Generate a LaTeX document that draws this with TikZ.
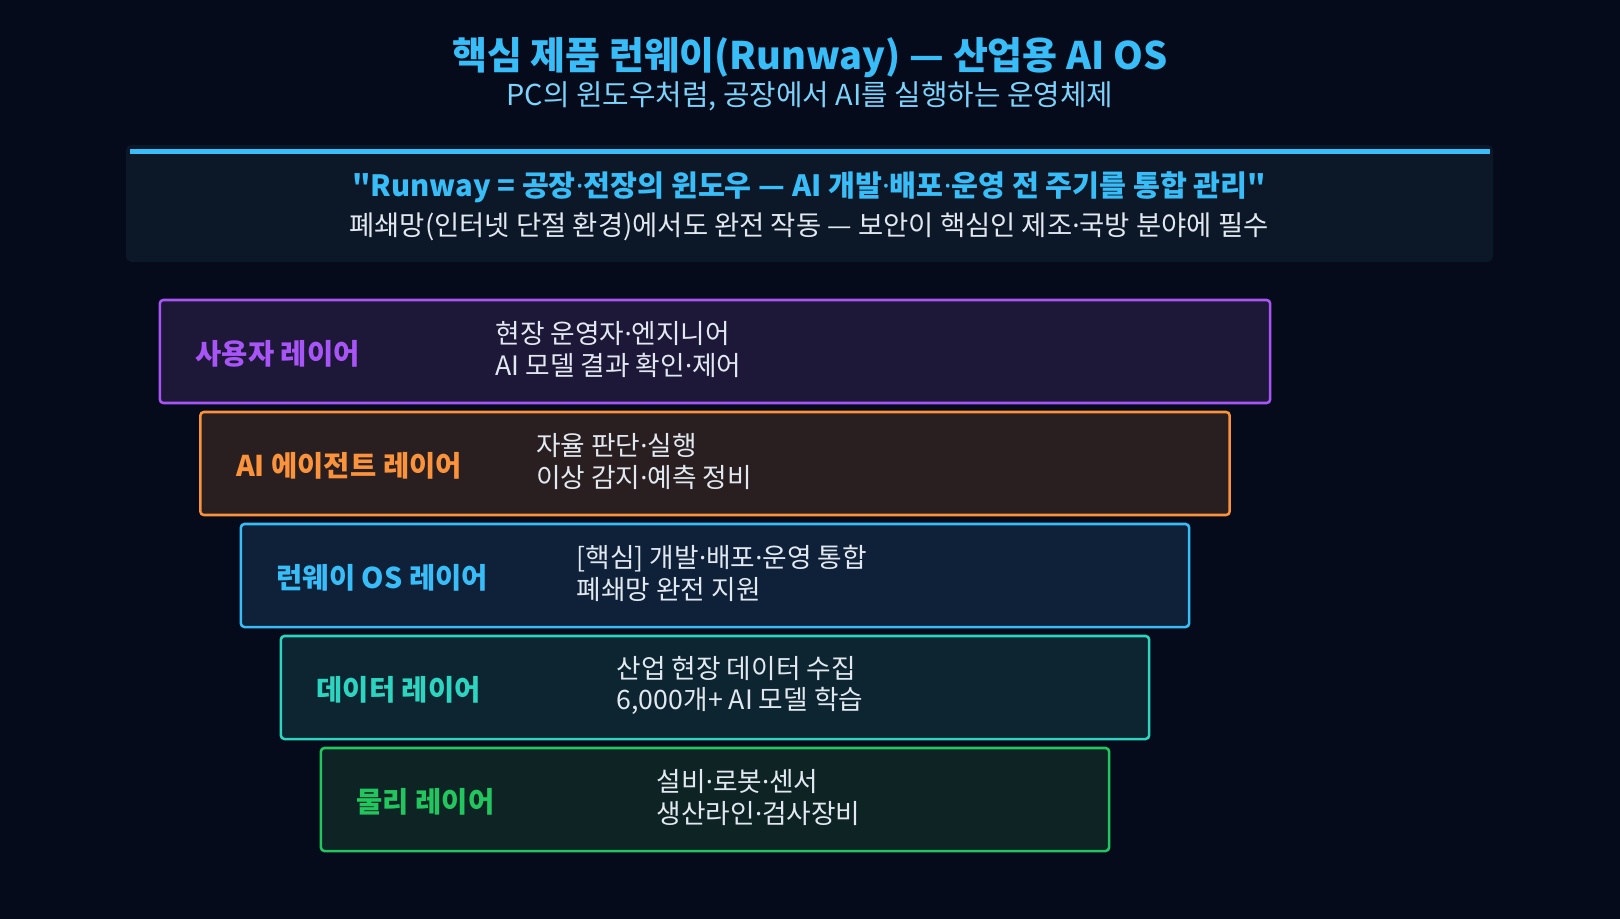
\documentclass[tikz,border=0pt]{standalone}
\usepackage{fontspec}
\setmainfont{Noto Sans CJK KR}
\newfontfamily\dotfont{Noto Sans}
\newcommand{\mdot}{{\dotfont ·}}
\usetikzlibrary{positioning}

\definecolor{bgnavy}{HTML}{050B1A}
\definecolor{quotebg}{HTML}{0C1828}
\definecolor{runblue}{HTML}{38BDF8}
\definecolor{subblue}{HTML}{7DD3FC}
\definecolor{paletext}{HTML}{E2E8F0}
\definecolor{userpurple}{HTML}{A855F7}
\definecolor{userfill}{HTML}{1E1838}
\definecolor{agentorange}{HTML}{FB923C}
\definecolor{agentfill}{HTML}{291F20}
\definecolor{osfill}{HTML}{0E2139}
\definecolor{datateal}{HTML}{2DD4BF}
\definecolor{datafill}{HTML}{0C2530}
\definecolor{physgreen}{HTML}{22C55E}
\definecolor{physfill}{HTML}{0E2424}

\tikzset{layerbox/.style={draw, line width=1.8pt, rounded corners=2.5pt,
    minimum height=2.575cm, inner sep=0pt},
  layername/.style={anchor=west, yshift=-0.07cm, font=\bfseries\fontsize{20.3}{24}\selectfont},
  layerdesc/.style={anchor=west, align=left, text=paletext, yshift=0.05cm,
    font=\fontsize{19}{22.5}\selectfont}}

\begin{document}
\begin{tikzpicture}[x=0.025cm, y=-0.025cm]

  % background
  \fill[bgnavy] (0,0) rectangle (1620,919);
  \useasboundingbox (0,0) rectangle (1620,919);

  % title
  \node[text=runblue, font=\bfseries\fontsize{27}{32}\selectfont] (title) at (810,58)
    {핵심 제품 런웨이(Runway) — 산업용 AI OS};
  \node[text=subblue, font=\fontsize{20.5}{24}\selectfont] (subtitle) at (810,96)
    {PC의 윈도우처럼, 공장에서 AI를 실행하는 운영체제};

  % quote box
  \node[fill=quotebg, rounded corners=4pt, minimum width=34.175cm,
    minimum height=2.925cm, inner sep=0pt] (quote) at (809.5,203.5) {};
  \fill[runblue] (130,149) rectangle (1490,154);
  \node[text=runblue, font=\bfseries\fontsize{20.8}{24}\selectfont] (quoteA) at (809,187)
    {\textquotedbl Runway = 공장\mdot 전장의 윈도우 — AI 개발\mdot 배포\mdot 운영 전 주기를 통합 관리\textquotedbl};
  \node[text=paletext, font=\fontsize{19.5}{24}\selectfont] (quoteB) at (809,227)
    {폐쇄망(인터넷 단절 환경)에서도 완전 작동 — 보안이 핵심인 제조\mdot 국방 분야에 필수};

  % layers
  \node[layerbox, draw=userpurple, fill=userfill, minimum width=27.75cm] (user) at (715,351.5) {};
  \node[layerbox, draw=agentorange, fill=agentfill, minimum width=25.725cm] (agent) at (715,463.5) {};
  \node[layerbox, draw=runblue, fill=osfill, minimum width=23.7cm] (os) at (715,575.5) {};
  \node[layerbox, draw=datateal, fill=datafill, minimum width=21.7cm] (data) at (715,687.5) {};
  \node[layerbox, draw=physgreen, fill=physfill, minimum width=19.7cm] (phys) at (715,799.5) {};

  % layer names
  \node[layername, text=userpurple, right=0.8cm of user.west] (userName) {사용자 레이어};
  \node[layername, text=agentorange, right=0.8cm of agent.west] (agentName) {AI 에이전트 레이어};
  \node[layername, text=runblue, right=0.8cm of os.west] (osName) {런웨이 OS 레이어};
  \node[layername, text=datateal, right=0.8cm of data.west] (dataName) {데이터 레이어};
  \node[layername, text=physgreen, right=0.8cm of phys.west] (physName) {물리 레이어};

  % descriptions
  \node[layerdesc, right=8.3cm of user.west] (userDesc)
    {현장 운영자\mdot 엔지니어\\AI 모델 결과 확인\mdot 제어};
  \node[layerdesc, right=8.3cm of agent.west] (agentDesc)
    {자율 판단\mdot 실행\\이상 감지\mdot 예측 정비};
  \node[layerdesc, right=8.3cm of os.west] (osDesc)
    {[핵심] 개발\mdot 배포\mdot 운영 통합\\폐쇄망 완전 지원};
  \node[layerdesc, right=8.3cm of data.west] (dataDesc)
    {산업 현장 데이터 수집\\6,000개+ AI 모델 학습};
  \node[layerdesc, right=8.3cm of phys.west] (physDesc)
    {설비\mdot 로봇\mdot 센서\\생산라인\mdot 검사장비};

\end{tikzpicture}
\end{document}
